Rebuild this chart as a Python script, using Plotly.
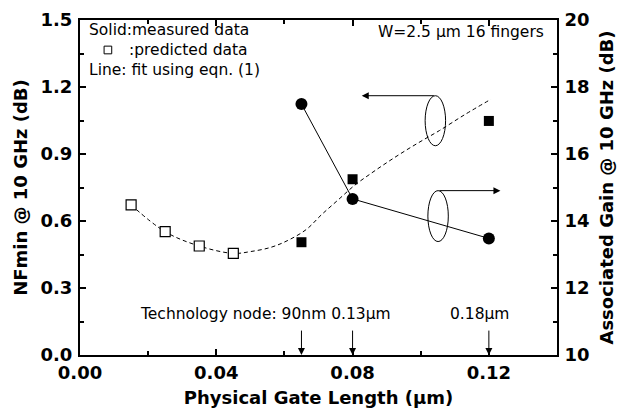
import plotly.graph_objects as go

# Gate length (um) and noise / gain values
L_pred = [0.015, 0.025, 0.035, 0.045]
nf_pred = [0.672, 0.552, 0.488, 0.455]

L_meas = [0.065, 0.08, 0.12]
nf_meas = [0.505, 0.787, 1.048]
gain_meas = [17.49, 14.66, 13.48]

# Fit curve from eqn. (1), sampled along the gate length
L_fit = [0.015, 0.025, 0.035, 0.045, 0.050, 0.056, 0.061, 0.0665, 0.0708,
         0.0758, 0.0807, 0.0856, 0.0905, 0.0954, 0.1004, 0.1055, 0.113, 0.1206]
nf_fit = [0.672, 0.552, 0.488, 0.455, 0.463, 0.482, 0.513, 0.563, 0.627,
          0.695, 0.761, 0.815, 0.866, 0.914, 0.960, 1.005, 1.077, 1.145]

# Technology nodes marked on the gate-length axis
node_L = [0.065, 0.08, 0.12]

FONT = "DejaVu Sans"
BLACK = "black"

fig = go.Figure()

fig.add_trace(go.Scatter(
    x=L_fit, y=nf_fit, mode="lines",
    line=dict(color=BLACK, width=1, dash="4px,3px", shape="spline", smoothing=1.0),
    hoverinfo="skip"))

fig.add_trace(go.Scatter(
    x=L_pred, y=nf_pred, mode="markers",
    marker=dict(symbol="square", size=10, color="white", line=dict(color=BLACK, width=1.2))))

fig.add_trace(go.Scatter(
    x=L_meas, y=nf_meas, mode="markers",
    marker=dict(symbol="square", size=10, color=BLACK)))

fig.add_trace(go.Scatter(
    x=L_meas, y=gain_meas, mode="lines+markers", yaxis="y2",
    line=dict(color=BLACK, width=1),
    marker=dict(symbol="circle", size=12, color=BLACK)))

tickfont = dict(family=FONT, size=18, color=BLACK, weight="bold")
titlefont = dict(family=FONT, size=18, color=BLACK, weight="bold")

fig.update_layout(
    width=617, height=417,
    margin=dict(l=80, r=60, t=20, b=62),
    paper_bgcolor="white", plot_bgcolor="white",
    showlegend=False,
    xaxis=dict(
        range=[0, 0.14], tick0=0, dtick=0.04, tickformat=".2f",
        ticks="inside", ticklen=6, tickwidth=1.5, tickcolor=BLACK,
        minor=dict(dtick=0.02, ticks="inside", ticklen=4, tickwidth=1.5, tickcolor=BLACK),
        showline=True, linewidth=2, linecolor=BLACK, mirror="ticks",
        showgrid=False, zeroline=False, automargin=False,
        tickfont=tickfont, ticklabelstandoff=0,
        title=dict(text="Physical Gate Length (\u03bcm)", font=titlefont, standoff=10),
    ),
    yaxis=dict(
        range=[0, 1.5], tick0=0, dtick=0.3, tickformat=".1f",
        ticks="inside", ticklen=6, tickwidth=1.5, tickcolor=BLACK,
        minor=dict(dtick=0.15, ticks="inside", ticklen=4, tickwidth=1.5, tickcolor=BLACK),
        showline=True, linewidth=2, linecolor=BLACK,
        showgrid=False, zeroline=False, automargin=False,
        tickfont=tickfont, ticklabelstandoff=2,
        title=dict(text="NFmin @ 10 GHz (dB)", font=titlefont, standoff=8),
    ),
    yaxis2=dict(
        overlaying="y", side="right",
        range=[10, 20], tick0=10, dtick=2,
        ticks="inside", ticklen=6, tickwidth=1.5, tickcolor=BLACK,
        minor=dict(dtick=1, ticks="inside", ticklen=4, tickwidth=1.5, tickcolor=BLACK),
        showline=True, linewidth=2, linecolor=BLACK,
        showgrid=False, zeroline=False, automargin=False,
        tickfont=tickfont, ticklabelstandoff=2,
        title=dict(text="Associated Gain @ 10 GHz (dB)", font=titlefont, standoff=14),
    ),
)

txt = dict(family=FONT, size=15.5, color=BLACK)

def note(text, x, y, xanchor="left", xref="paper", yref="paper"):
    fig.add_annotation(text=text, x=x, y=y, xref=xref, yref=yref,
                       xanchor=xanchor, yanchor="middle", showarrow=False, font=txt)

note("Solid:measured data", 0.014, 0.970)
note(":predicted data", 0.098, 0.910)
note("Line: fit using eqn. (1)", 0.014, 0.851)
note("W=2.5 \u03bcm 16 fingers", 0.977, 0.964, xanchor="right")

# open square key next to ":predicted data"
fig.add_shape(type="rect", xref="paper", yref="paper",
              x0=0.0505, x1=0.0665, y0=0.899, y1=0.922,
              line=dict(color=BLACK, width=1), fillcolor="white")

note("Technology node: 90nm 0.13\u03bcm", 0.0918, 0.184, xanchor="right", xref="x", yref="y")
note("0.18\u03bcm", 0.108, 0.184, xref="x", yref="y")

# arrows pointing down to each technology node
for L in node_L:
    fig.add_annotation(x=L, y=0, ax=L, ay=0.116, xref="x", yref="y",
                       axref="x", ayref="y", text="", showarrow=True,
                       arrowhead=2, arrowsize=1.4, arrowwidth=1, arrowcolor=BLACK,
                       standoff=0, startstandoff=0)

# ellipse + arrow marking which axis each data set belongs to
fig.add_shape(type="circle", xref="x", yref="y",
              x0=0.1013, x1=0.1073, y0=0.937, y1=1.161,
              line=dict(color=BLACK, width=1))
fig.add_annotation(x=0.0827, y=1.161, ax=0.1043, ay=1.161, xref="x", yref="y",
                   axref="x", ayref="y", text="", showarrow=True,
                   arrowhead=2, arrowsize=1.4, arrowwidth=1, arrowcolor=BLACK,
                   standoff=0, startstandoff=0)

fig.add_shape(type="circle", xref="x", yref="y",
              x0=0.1021, x1=0.1081, y0=0.508, y1=0.736,
              line=dict(color=BLACK, width=1))
fig.add_annotation(x=0.1234, y=0.736, ax=0.1051, ay=0.736, xref="x", yref="y",
                   axref="x", ayref="y", text="", showarrow=True,
                   arrowhead=2, arrowsize=1.4, arrowwidth=1, arrowcolor=BLACK,
                   standoff=0, startstandoff=0)

fig.write_html("out.html")
